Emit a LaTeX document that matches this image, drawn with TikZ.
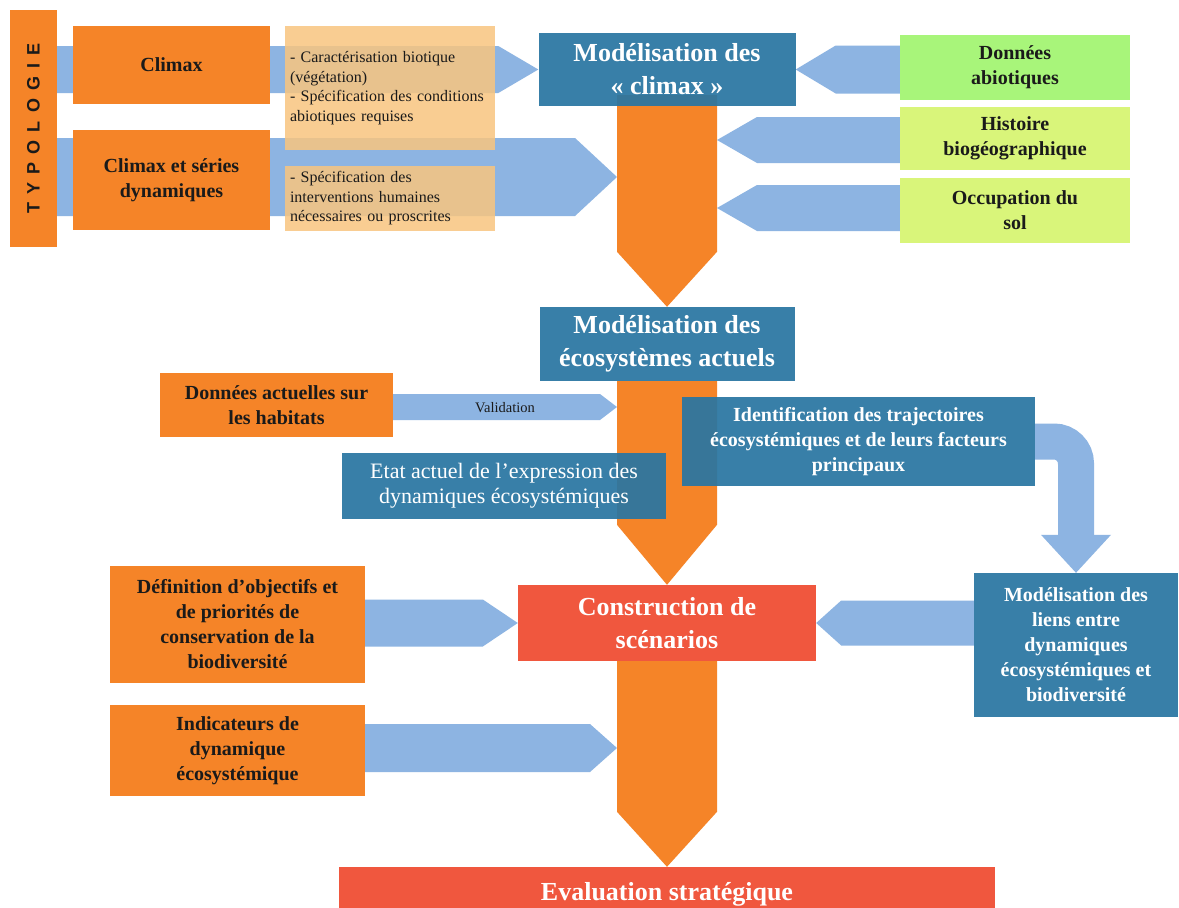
\documentclass[tikz,border=0pt]{standalone}
\usepackage{fontspec}
\setmainfont{Liberation Serif}
\newfontfamily\typofont[LetterSpace=45]{Liberation Sans}
\usetikzlibrary{calc}
\definecolor{corange}{HTML}{F58428}
\definecolor{clight}{HTML}{F8C57F}
\definecolor{carrow}{HTML}{8DB4E2}
\definecolor{cblue}{HTML}{2976A2}
\definecolor{cred}{HTML}{F0573E}
\definecolor{cgreenA}{HTML}{A8F57A}
\definecolor{cgreenB}{HTML}{D9F57A}
\definecolor{ctext}{HTML}{1A1A1A}
\pgfdeclarelayer{bg}
\pgfsetlayers{bg,main}
\newcommand\ftitle{\bfseries\fontsize{26}{33}\selectfont}
\newcommand\fmid{\bfseries\fontsize{20}{25}\selectfont}
\newcommand\fnote{\fontsize{16}{19.5}\selectfont}
% right-pointing block arrow: tail #1, tip #2, half width #3, head length #4
\newcommand\arrR[4]{\path (#1 |- #2) coordinate (tA);
  \fill[carrow] ($(tA)+(0,-#3)$) -- ($(#2)+(-#4,-#3)$) -- (#2) -- ($(#2)+(-#4,#3)$) -- ($(tA)+(0,#3)$) -- cycle;}
\newcommand\arrL[4]{\path (#1 |- #2) coordinate (tA);
  \fill[carrow] ($(tA)+(0,-#3)$) -- ($(#2)+(#4,-#3)$) -- (#2) -- ($(#2)+(#4,#3)$) -- ($(tA)+(0,#3)$) -- cycle;}
\newcommand\arrD[5]{\path (#1 -| #2) coordinate (tA);
  \fill[#5] ($(tA)+(-#3,0)$) -- ($(#2)+(-#3,-#4)$) -- (#2) -- ($(#2)+(#3,-#4)$) -- ($(tA)+(#3,0)$) -- cycle;}
\begin{document}
\begin{tikzpicture}[x=1pt,y=-1pt,
  box/.style={rectangle, inner sep=3pt, align=center},
  obox/.style={box, fill=corange, text=ctext, font=\fmid},
  gbox/.style={box, text=ctext, font=\fmid},
  bbox/.style={box, fill=cblue, fill opacity=0.93, text opacity=1, text=white},
  rbox/.style={box, fill=cred, text=white},
  notebox/.style={rectangle, fill=clight, fill opacity=0.85, text opacity=1, text=ctext, font=\fnote, align=left, text width=200pt, inner sep=5pt}]
\useasboundingbox (0,0) rectangle (1179,908);
% nodes
\node[obox, minimum width=47pt, minimum height=237pt] (typo) at (33.5,128.5) {};
\node[rotate=90, text=ctext, font=\typofont\bfseries\fontsize{18}{18}\selectfont] (typolab) at (typo.center) {TYPOLOGIE};
\node[obox, minimum width=197pt, minimum height=78pt] (climax) at (171.5,65) {Climax};
\node[obox, minimum width=197pt, minimum height=100pt] (climaxser) at (171.5,180) {Climax et séries\\dynamiques};
\node[notebox, minimum height=124pt] (note1) at (390,88) {- Caractérisation biotique\\(végétation)\\- Spécification des conditions\\abiotiques requises};
\node[notebox, minimum height=65pt] (note2) at (390,198.5) {- Spécification des\\interventions humaines\\nécessaires ou proscrites};
\node[bbox, font=\ftitle, minimum width=257pt, minimum height=73pt] (mclimax) at (667,69.5) {Modélisation des\\«~climax~»};
\node[gbox, fill=cgreenA, minimum width=230pt, minimum height=65pt] (dabio) at (1015,67.5) {Données\\abiotiques};
\node[gbox, fill=cgreenB, minimum width=230pt, minimum height=63pt] (histo) at (1015,138.5) {Histoire\\biogéographique};
\node[gbox, fill=cgreenB, minimum width=230pt, minimum height=65pt] (occup) at (1015,210.5) {Occupation du\\sol};
\node[bbox, font=\ftitle, minimum width=255pt, minimum height=74pt] (meco) at (667,344) {Modélisation des\\écosystèmes actuels};
\node[obox, minimum width=233pt, minimum height=64pt] (dact) at (276.5,405) {Données actuelles sur\\les habitats};
\node[font=\fontsize{14.5}{16}\selectfont, text=ctext] (vlab) at (505,408) {Validation};
\node[bbox, font=\fmid, minimum width=353pt, minimum height=89pt] (ident) at (858.5,441.5) {Identification des trajectoires\\écosystémiques et de leurs facteurs\\principaux};
\node[bbox, font=\fontsize{22}{25}\selectfont, minimum width=324pt, minimum height=66pt] (etat) at (504,486) {Etat actuel de l’expression des\\dynamiques écosystémiques};
\node[bbox, font=\fmid, minimum width=204pt, minimum height=144pt] (mliens) at (1076,645) {Modélisation des\\liens entre\\dynamiques\\écosystémiques et\\biodiversité};
\node[rbox, font=\ftitle, minimum width=298pt, minimum height=76pt] (constr) at (667,623) {Construction de\\scénarios};
\node[obox, minimum width=255pt, minimum height=117pt] (defin) at (237.5,624.5) {Définition d’objectifs et\\de priorités de\\conservation de la\\biodiversité};
\node[obox, minimum width=255pt, minimum height=91pt] (indic) at (237.5,750.5) {Indicateurs de\\dynamique\\écosystémique};
\node[rbox, font=\ftitle, minimum width=656pt, minimum height=54pt] (evalu) at (667,894) {Evaluation stratégique};
% connectors behind
\begin{pgfonlayer}{bg}
\fill[white] (0,0) rectangle (1179,908);
\coordinate (a2t) at (617,177);
\coordinate (r2t) at (717,140);
\coordinate (r3t) at (717,208);
\coordinate (vt) at (617,407);
\coordinate (it) at (617,748);
\coordinate (c1s) at (667,95);
\arrR{typo.east}{mclimax.west}{23.5}{40}
\arrR{typo.east}{a2t}{39}{42}
\arrL{dabio.west}{mclimax.east}{24}{40}
\arrL{histo.west}{r2t}{23}{40}
\arrL{occup.west}{r3t}{23}{40}
\arrR{dact.east}{vt}{13}{17}
\arrR{defin.east}{constr.west}{23.5}{35}
\arrR{indic.east}{it}{24}{27}
\arrL{mliens.west}{constr.east}{22.5}{25}
\draw[carrow, line width=36pt, rounded corners=22pt] (ident.east) -- (ident.east -| mliens.north) -- ($(mliens.north)+(0,-37)$);
\fill[carrow] ($(mliens.north)+(-35,-38)$) -- (mliens.north) -- ($(mliens.north)+(35,-38)$) -- cycle;
\arrD{c1s}{meco.north}{50}{55}{corange}
\arrD{meco.south}{constr.north}{50}{60}{corange}
\arrD{constr.south}{evalu.north}{50}{55}{corange}
\end{pgfonlayer}
\end{tikzpicture}
\end{document}
